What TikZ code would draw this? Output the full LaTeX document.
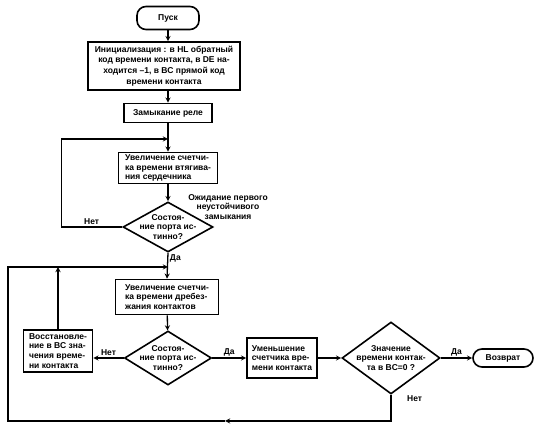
\documentclass[tikz,border=0pt]{standalone}
\usepackage{fontspec}
\newfontfamily\flowfont{Liberation Sans}
\usetikzlibrary{positioning,shapes.geometric,arrows,calc}

\tikzset{
  >=stealth,
  every node/.style={font=\flowfont\bfseries\fontsize{8.5}{9.8}\selectfont},
  % --- nodes
  blk/.style   = {draw, line width=1.6pt, align=center, inner sep=1.5pt},
  term/.style  = {blk, rounded corners=9pt},
  dec/.style   = {diamond, draw, line width=1.6pt, inner sep=0pt},
  dtext/.style = {align=center, inner sep=0pt},
  lbl/.style   = {inner sep=1.5pt},
  note/.style  = {align=center, inner sep=0pt},
  % --- edges
  e/.style     = {-stealth, line width=1.3pt},
}

\begin{document}
\begin{tikzpicture}[x=1pt,y=-1pt]
  \useasboundingbox (0,0) rectangle (542,427);

  \node[term, minimum width=62pt, minimum height=23pt] (start) at (168,18) {Пуск};
  \node[blk, minimum width=152pt, minimum height=48pt, font=\flowfont\bfseries\fontsize{8.5}{10.8}\selectfont] (init) at (164,66)
    {Инициализация : в HL обратный\\код времени контакта, в DE на-\\ходится –1, в BC прямой код\\времени контакта};
  \node[blk, minimum width=88pt, minimum height=19pt] (relay) at (168,113) {Замыкание реле};
  \node[blk, minimum width=99pt, minimum height=31pt, align=left] (pull) at (168,168)
    {Увеличение счетчи-\\ка времени втягива-\\ния сердечника};
  \node[dec, minimum width=90pt, minimum height=50pt] (d1) at (168,227) {};
  \node[dtext] (d1t) at (d1) {Состоя-\\ние порта ис-\\тинно?};
  \node[note] (wait) at (228,207) {Ожидание первого\\неустойчивого\\замыкания};

  \node[blk, minimum width=103pt, minimum height=35pt, align=left] (bounce) at (167,297)
    {Увеличение счетчи-\\ка времени дребез-\\жания контактов};
  \node[dec, minimum width=87pt, minimum height=54pt] (d2) at (168,358) {};
  \node[dtext] (d2t) at (d2) {Состоя-\\ние порта ис-\\тинно?};
  \node[blk, minimum width=69pt, minimum height=42pt, align=left] (rest) at (58,351)
    {Восстановле-\\ние в BC зна-\\чения време-\\ни контакта};
  \node[blk, minimum width=70pt, minimum height=40pt, align=left] (decr) at (282,358)
    {Уменьшение\\счетчика вре-\\мени контакта};
  \node[dec, minimum width=98pt, minimum height=72pt] (d3) at (391,358) {};
  \node[dtext] (d3t) at (d3) {Значение\\времени контак-\\та в BC=0 ?};
  \node[term, minimum width=60pt, minimum height=18pt] (ret) at (503,358) {Возврат};

  \coordinate (j1) at (168,139);
  \coordinate (j2) at (168,267);
  \coordinate (lc) at (8,421);
  \coordinate (bc) at (225,421);

  \draw[e] (start) -- (start |- init.north);
  \draw[e] (init.south -| relay) -- (relay);
  \draw[e] (relay) -- (pull);
  \draw[e] (pull) -- (d1);
  \draw[e] (d1.west) -- node[lbl, above] {Нет} ++(-61,0) |- (j1);
  \draw[e] (d1.south) -- node[lbl, right, pos=0.2] {Да} (bounce.north);
  \draw[e] (bounce) -- (d2);
  \draw[e] (d2.west) -- node[lbl, above] {Нет} (d2.west -| rest.east);
  \draw[e] (rest) -- (rest |- j2);
  \draw[e] (d2.east) -- node[lbl, above] {Да} (decr.west);
  \draw[e] (decr) -- (d3);
  \draw[e] (d3) -- node[lbl, above] {Да} (ret);
  \draw[e] (d3.south) -- node[lbl, right=14pt, pos=0.15] {Нет} (d3.south |- bc) -- (bc);
  \draw[e] (bc) -- (lc) |- (j2);
\end{tikzpicture}
\end{document}
